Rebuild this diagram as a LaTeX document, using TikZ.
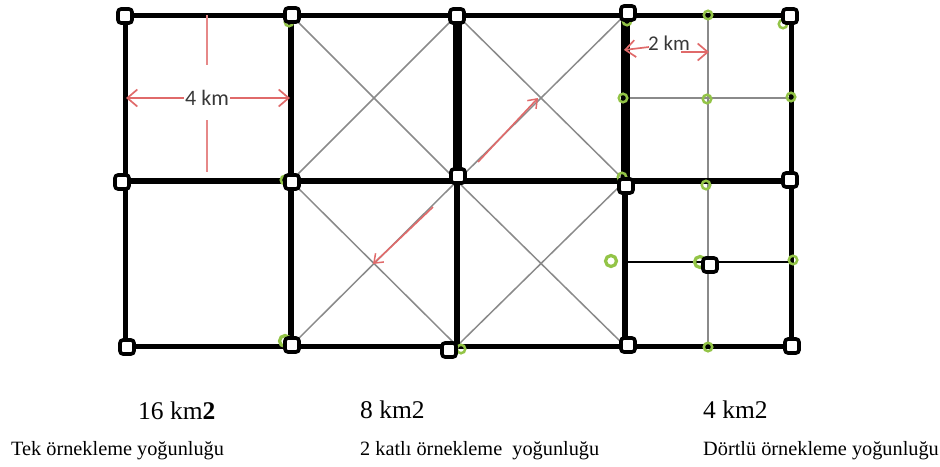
\documentclass[tikz,border=0pt]{standalone}
\usepackage{fontspec}
\setmainfont{Liberation Serif}
\newfontfamily\carlfont{Carlito}
\usetikzlibrary{arrows.meta}
\definecolor{annred}{HTML}{E06A6A}
\definecolor{ringgreen}{HTML}{93C447}
\definecolor{lgray}{HTML}{8A8A8A}
\tikzset{
  sq/.style={draw=black, line width=3.6pt, fill=white, rounded corners=3pt, minimum size=14pt, inner sep=0pt},
  ring/.style={draw=ringgreen, line width=2.5pt, circle, minimum size=8.5pt, inner sep=0pt},
  bigring/.style={draw=ringgreen, line width=3.2pt, circle, minimum size=11pt, inner sep=0pt},
  frame/.style={line width=5pt, black},
  thickln/.style={line width=6.5pt, black},
  heavyln/.style={line width=9pt, black},
  diag/.style={line width=1.5pt, lgray},
  thinln/.style={line width=2.2pt, lgray},
  thinblk/.style={line width=2pt, black},
  annarrow/.style={annred, line width=1.7pt, -{Straight Barb[length=10pt, width=17pt, line width=1.7pt]}},
  annarrowsm/.style={annred, line width=1.6pt, -{Straight Barb[length=8pt, width=12pt, line width=1.5pt]}},
  annline/.style={annred!80, line width=2pt},
  kmlabel/.style={font=\carlfont\fontsize{22}{24}\selectfont, text=black!78, inner sep=1pt},
  arealabel/.style={font=\fontsize{25.5}{28}\selectfont, anchor=base west, inner sep=0pt},
  desclabel/.style={font=\fontsize{20.3}{24}\selectfont, anchor=base west, inner sep=0pt}
}
\begin{document}
\begin{tikzpicture}[x=1pt,y=-1pt]
\useasboundingbox (0,0) rectangle (940,466);
% grid coordinates
\coordinate (a1) at (125,15);  \coordinate (a2) at (291,15);  \coordinate (a3) at (457,15);  \coordinate (a4) at (625,15);  \coordinate (a5) at (791,15);
\coordinate (b1) at (125,181); \coordinate (b2) at (291,181); \coordinate (b3) at (457,181); \coordinate (b4) at (625,181); \coordinate (b5) at (791,181);
\coordinate (c1) at (125,346); \coordinate (c2) at (291,346); \coordinate (c3) at (457,346); \coordinate (c4) at (625,346); \coordinate (c5) at (791,346);
\coordinate (qt) at (708,15); \coordinate (qb) at (708,346);
\coordinate (ql) at (625,98); \coordinate (qr) at (791,98);
\coordinate (hl) at (625,262); \coordinate (hr) at (791,262);
% diagonals
\draw[diag] (a2) -- (b3) (a3) -- (b2);
\draw[diag] (a3) -- (b4) (a4) -- (b3);
\draw[diag] (b2) -- (c3) (b3) -- (c2);
\draw[diag] (b3) -- (c4) (b4) -- (c3);
% quarter grid
\draw[thinln] (qt) -- (qb);
\draw[thinln] (ql) -- (qr);
\draw[thinblk] (hl) -- (hr);
% main grid
\draw[frame] (a1) -- (a5);
\draw[thickln] (b1) -- (b4);
\draw[line width=5.5pt] (b4) -- (b5);
\draw[frame] (c1) -- (c5);
\draw[frame] (a1) -- (c1);
\draw[thickln] (a2) -- (c2);
\draw[heavyln] (a3) -- (b3);
\draw[thickln] (b3) -- (c3);
\draw[heavyln] (a4) -- (b4);
\draw[thickln] (b4) -- (c4);
\draw[frame] (a5) -- (c5);
% green rings
\node[ring] (r1) at (708,15) {};
\node[ring] (r2) at (783,24) {};
\node[ring] (r3) at (623,98) {};
\node[ring] (r4) at (707,99) {};
\node[ring] (r5) at (791,97) {};
\node[ring] (r6) at (706,185) {};
\node[bigring] (r7) at (611,261) {};
\node[bigring] (r8) at (700,262) {};
\node[ring] (r9) at (793,260) {};
\node[ring] (r10) at (708,347) {};
\node[ring] (r11) at (289,22) {};
\node[ring] (r12) at (285,180) {};
\node[bigring] (r13) at (285,341) {};
\node[ring] (r14) at (627,21) {};
\node[ring] (r15) at (622,177) {};
\node[ring] (r16) at (461,349) {};
% squares
\node[sq] (s11) at (125,16) {};
\node[sq] (s12) at (292,15) {};
\node[sq] (s13) at (457,16) {};
\node[sq] (s14) at (628,13) {};
\node[sq] (s15) at (790,16) {};
\node[sq] (s21) at (122,182) {};
\node[sq] (s22) at (292,182) {};
\node[sq] (s23) at (458,176) {};
\node[sq] (s24) at (626,186) {};
\node[sq] (s25) at (790,180) {};
\node[sq] (s31) at (127,347) {};
\node[sq] (s32) at (292,345) {};
\node[sq] (s33) at (449,350) {};
\node[sq] (s34) at (628,345) {};
\node[sq] (s35) at (792,346) {};
\node[sq] (s4) at (710,265) {};
% 4 km annotation
\coordinate (v1) at (207,15); \coordinate (v2) at (207,65);
\coordinate (v3) at (207,120); \coordinate (v4) at (207,172);
\draw[annline] (v1) -- (v2);
\draw[annline] (v3) -- (v4);
\node[kmlabel] (k4) at (207,98) {4 km};
\coordinate (k4l) at (126,98); \coordinate (k4r) at (290,98);
\draw[annarrow] (k4.west) -- (k4l);
\draw[annarrow] (k4.east) -- (k4r);
% 2 km annotation
\node[kmlabel, font=\carlfont\fontsize{21}{23}\selectfont] (k2) at (669,43) {2 km};
\coordinate (k2l) at (624,50); \coordinate (k2a) at (649,47);
\coordinate (k2b) at (681,52); \coordinate (k2r) at (709,52);
\draw[annarrow] (k2a) -- (k2l);
\draw[annarrow] (k2b) -- (k2r);
% diagonal arrows
\coordinate (d1s) at (478,162); \coordinate (d1e) at (538,98);
\coordinate (d2s) at (433,207); \coordinate (d2e) at (373,264);
\draw[annarrowsm] (d1s) -- (d1e);
\draw[annarrowsm] (d2s) -- (d2e);
% labels
\node[arealabel] (l1) at (138,419) {16 km\textbf{2}};
\node[arealabel] (l2) at (360,418) {8 km2};
\node[arealabel] (l3) at (703,418) {4 km2};
\node[desclabel] (t1) at (11,455) {Tek örnekleme yoğunluğu};
\node[desclabel] (t2) at (360,455) {2 katlı örnekleme \ yoğunluğu};
\node[desclabel] (t3) at (703,455) {Dörtlü örnekleme yoğunluğu};
\end{tikzpicture}
\end{document}
